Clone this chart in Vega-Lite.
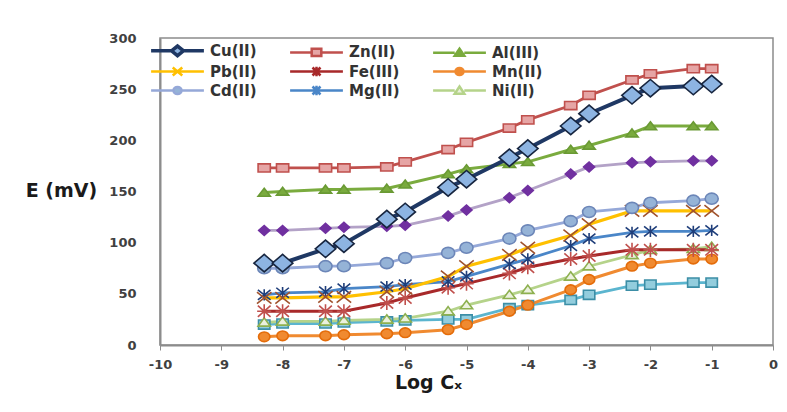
{
  "$schema": "https://vega.github.io/schema/vega-lite/v6.json",
  "width": 613,
  "height": 307,
  "autosize": {"type": "none"},
  "padding": {"left": 160, "top": 38, "right": 14, "bottom": 67},
  "background": "white",
  "config": {
    "view": {"stroke": "#8c8c8c", "strokeWidth": 1.5},
    "axis": {"labelFont": "DejaVu Sans", "labelFontWeight": "bold", "labelFontSize": 13, "labelColor": "#404040", "titleFont": "DejaVu Sans", "titleFontWeight": "bold", "titleColor": "#1a1a1a", "domainColor": "#8c8c8c", "domainWidth": 2, "tickColor": "#8c8c8c", "grid": false}
  },
  "data": {"values": [
    {"series": "Series11", "x": -8.3, "E": 20}, {"series": "Series11", "x": -8, "E": 21}, {"series": "Series11", "x": -7.3, "E": 21}, {"series": "Series11", "x": -7, "E": 22}, {"series": "Series11", "x": -6.3, "E": 23}, {"series": "Series11", "x": -6, "E": 24}, {"series": "Series11", "x": -5.3, "E": 25}, {"series": "Series11", "x": -5, "E": 25}, {"series": "Series11", "x": -4.3, "E": 36}, {"series": "Series11", "x": -4, "E": 39}, {"series": "Series11", "x": -3.3, "E": 44}, {"series": "Series11", "x": -3, "E": 49}, {"series": "Series11", "x": -2.3, "E": 58}, {"series": "Series11", "x": -2, "E": 59}, {"series": "Series11", "x": -1.3, "E": 61}, {"series": "Series11", "x": -1, "E": 61},
    {"series": "Mn(II)", "x": -8.3, "E": 8}, {"series": "Mn(II)", "x": -8, "E": 9}, {"series": "Mn(II)", "x": -7.3, "E": 9}, {"series": "Mn(II)", "x": -7, "E": 10}, {"series": "Mn(II)", "x": -6.3, "E": 11}, {"series": "Mn(II)", "x": -6, "E": 12}, {"series": "Mn(II)", "x": -5.3, "E": 15}, {"series": "Mn(II)", "x": -5, "E": 20}, {"series": "Mn(II)", "x": -4.3, "E": 33}, {"series": "Mn(II)", "x": -4, "E": 39}, {"series": "Mn(II)", "x": -3.3, "E": 54}, {"series": "Mn(II)", "x": -3, "E": 64}, {"series": "Mn(II)", "x": -2.3, "E": 77}, {"series": "Mn(II)", "x": -2, "E": 80}, {"series": "Mn(II)", "x": -1.3, "E": 84}, {"series": "Mn(II)", "x": -1, "E": 84},
    {"series": "Ni(II)", "x": -8.3, "E": 22}, {"series": "Ni(II)", "x": -8, "E": 23}, {"series": "Ni(II)", "x": -7.3, "E": 23}, {"series": "Ni(II)", "x": -7, "E": 24}, {"series": "Ni(II)", "x": -6.3, "E": 25}, {"series": "Ni(II)", "x": -6, "E": 26}, {"series": "Ni(II)", "x": -5.3, "E": 33}, {"series": "Ni(II)", "x": -5, "E": 39}, {"series": "Ni(II)", "x": -4.3, "E": 49}, {"series": "Ni(II)", "x": -4, "E": 54}, {"series": "Ni(II)", "x": -3.3, "E": 67}, {"series": "Ni(II)", "x": -3, "E": 77}, {"series": "Ni(II)", "x": -2.3, "E": 88}, {"series": "Ni(II)", "x": -2, "E": 93}, {"series": "Ni(II)", "x": -1.3, "E": 94}, {"series": "Ni(II)", "x": -1, "E": 96},
    {"series": "Fe(III)", "x": -8.3, "E": 33}, {"series": "Fe(III)", "x": -8, "E": 33}, {"series": "Fe(III)", "x": -7.3, "E": 33}, {"series": "Fe(III)", "x": -7, "E": 33}, {"series": "Fe(III)", "x": -6.3, "E": 41}, {"series": "Fe(III)", "x": -6, "E": 46}, {"series": "Fe(III)", "x": -5.3, "E": 56}, {"series": "Fe(III)", "x": -5, "E": 60}, {"series": "Fe(III)", "x": -4.3, "E": 70}, {"series": "Fe(III)", "x": -4, "E": 76}, {"series": "Fe(III)", "x": -3.3, "E": 84}, {"series": "Fe(III)", "x": -3, "E": 87}, {"series": "Fe(III)", "x": -2.3, "E": 93}, {"series": "Fe(III)", "x": -2, "E": 93}, {"series": "Fe(III)", "x": -1.3, "E": 93}, {"series": "Fe(III)", "x": -1, "E": 93},
    {"series": "Mg(II)", "x": -8.3, "E": 49}, {"series": "Mg(II)", "x": -8, "E": 51}, {"series": "Mg(II)", "x": -7.3, "E": 52}, {"series": "Mg(II)", "x": -7, "E": 55}, {"series": "Mg(II)", "x": -6.3, "E": 57}, {"series": "Mg(II)", "x": -6, "E": 59}, {"series": "Mg(II)", "x": -5.3, "E": 62}, {"series": "Mg(II)", "x": -5, "E": 67}, {"series": "Mg(II)", "x": -4.3, "E": 79}, {"series": "Mg(II)", "x": -4, "E": 84}, {"series": "Mg(II)", "x": -3.3, "E": 97}, {"series": "Mg(II)", "x": -3, "E": 104}, {"series": "Mg(II)", "x": -2.3, "E": 110}, {"series": "Mg(II)", "x": -2, "E": 111}, {"series": "Mg(II)", "x": -1.3, "E": 111}, {"series": "Mg(II)", "x": -1, "E": 112},
    {"series": "Pb(II)", "x": -8.3, "E": 46}, {"series": "Pb(II)", "x": -8, "E": 46}, {"series": "Pb(II)", "x": -7.3, "E": 47}, {"series": "Pb(II)", "x": -7, "E": 47}, {"series": "Pb(II)", "x": -6.3, "E": 52}, {"series": "Pb(II)", "x": -6, "E": 55}, {"series": "Pb(II)", "x": -5.3, "E": 67}, {"series": "Pb(II)", "x": -5, "E": 77}, {"series": "Pb(II)", "x": -4.3, "E": 88}, {"series": "Pb(II)", "x": -4, "E": 95}, {"series": "Pb(II)", "x": -3.3, "E": 107}, {"series": "Pb(II)", "x": -3, "E": 118}, {"series": "Pb(II)", "x": -2.3, "E": 131}, {"series": "Pb(II)", "x": -2, "E": 131}, {"series": "Pb(II)", "x": -1.3, "E": 131}, {"series": "Pb(II)", "x": -1, "E": 131},
    {"series": "Cd(II)", "x": -8.3, "E": 75}, {"series": "Cd(II)", "x": -8, "E": 75}, {"series": "Cd(II)", "x": -7.3, "E": 77}, {"series": "Cd(II)", "x": -7, "E": 77}, {"series": "Cd(II)", "x": -6.3, "E": 80}, {"series": "Cd(II)", "x": -6, "E": 85}, {"series": "Cd(II)", "x": -5.3, "E": 90}, {"series": "Cd(II)", "x": -5, "E": 95}, {"series": "Cd(II)", "x": -4.3, "E": 104}, {"series": "Cd(II)", "x": -4, "E": 112}, {"series": "Cd(II)", "x": -3.3, "E": 121}, {"series": "Cd(II)", "x": -3, "E": 130}, {"series": "Cd(II)", "x": -2.3, "E": 134}, {"series": "Cd(II)", "x": -2, "E": 139}, {"series": "Cd(II)", "x": -1.3, "E": 141}, {"series": "Cd(II)", "x": -1, "E": 143},
    {"series": "Series10", "x": -8.3, "E": 112}, {"series": "Series10", "x": -8, "E": 112}, {"series": "Series10", "x": -7.3, "E": 114}, {"series": "Series10", "x": -7, "E": 115}, {"series": "Series10", "x": -6.3, "E": 116}, {"series": "Series10", "x": -6, "E": 117}, {"series": "Series10", "x": -5.3, "E": 126}, {"series": "Series10", "x": -5, "E": 132}, {"series": "Series10", "x": -4.3, "E": 144}, {"series": "Series10", "x": -4, "E": 151}, {"series": "Series10", "x": -3.3, "E": 167}, {"series": "Series10", "x": -3, "E": 174}, {"series": "Series10", "x": -2.3, "E": 178}, {"series": "Series10", "x": -2, "E": 179}, {"series": "Series10", "x": -1.3, "E": 180}, {"series": "Series10", "x": -1, "E": 180},
    {"series": "Al(III)", "x": -8.3, "E": 149}, {"series": "Al(III)", "x": -8, "E": 150}, {"series": "Al(III)", "x": -7.3, "E": 152}, {"series": "Al(III)", "x": -7, "E": 152}, {"series": "Al(III)", "x": -6.3, "E": 153}, {"series": "Al(III)", "x": -6, "E": 157}, {"series": "Al(III)", "x": -5.3, "E": 167}, {"series": "Al(III)", "x": -5, "E": 172}, {"series": "Al(III)", "x": -4.3, "E": 177}, {"series": "Al(III)", "x": -4, "E": 179}, {"series": "Al(III)", "x": -3.3, "E": 191}, {"series": "Al(III)", "x": -3, "E": 195}, {"series": "Al(III)", "x": -2.3, "E": 207}, {"series": "Al(III)", "x": -2, "E": 214}, {"series": "Al(III)", "x": -1.3, "E": 214}, {"series": "Al(III)", "x": -1, "E": 214},
    {"series": "Zn(II)", "x": -8.3, "E": 173}, {"series": "Zn(II)", "x": -8, "E": 173}, {"series": "Zn(II)", "x": -7.3, "E": 173}, {"series": "Zn(II)", "x": -7, "E": 173}, {"series": "Zn(II)", "x": -6.3, "E": 174}, {"series": "Zn(II)", "x": -6, "E": 179}, {"series": "Zn(II)", "x": -5.3, "E": 191}, {"series": "Zn(II)", "x": -5, "E": 198}, {"series": "Zn(II)", "x": -4.3, "E": 212}, {"series": "Zn(II)", "x": -4, "E": 220}, {"series": "Zn(II)", "x": -3.3, "E": 234}, {"series": "Zn(II)", "x": -3, "E": 244}, {"series": "Zn(II)", "x": -2.3, "E": 259}, {"series": "Zn(II)", "x": -2, "E": 265}, {"series": "Zn(II)", "x": -1.3, "E": 270}, {"series": "Zn(II)", "x": -1, "E": 270},
    {"series": "Cu(II)", "x": -8.3, "E": 80}, {"series": "Cu(II)", "x": -8, "E": 80}, {"series": "Cu(II)", "x": -7.3, "E": 94}, {"series": "Cu(II)", "x": -7, "E": 99}, {"series": "Cu(II)", "x": -6.3, "E": 123}, {"series": "Cu(II)", "x": -6, "E": 130}, {"series": "Cu(II)", "x": -5.3, "E": 154}, {"series": "Cu(II)", "x": -5, "E": 162}, {"series": "Cu(II)", "x": -4.3, "E": 183}, {"series": "Cu(II)", "x": -4, "E": 192}, {"series": "Cu(II)", "x": -3.3, "E": 214}, {"series": "Cu(II)", "x": -3, "E": 226}, {"series": "Cu(II)", "x": -2.3, "E": 244}, {"series": "Cu(II)", "x": -2, "E": 251}, {"series": "Cu(II)", "x": -1.3, "E": 253}, {"series": "Cu(II)", "x": -1, "E": 255}
  ]},
  "encoding": {
    "x": {"field": "x", "type": "quantitative", "scale": {"domain": [-10, 0], "nice": false}, "axis": {"values": [-10, -9, -8, -7, -6, -5, -4, -3, -2, -1, 0], "labelExpr": "toString(datum.value)", "tickSize": 5, "labelPadding": 8, "title": "Log Cₓ", "titleFontSize": 19, "titleX": 268, "titleY": 37, "titleAlign": "center", "titleBaseline": "middle", "labelFlush": false}},
    "y": {"field": "E", "type": "quantitative", "scale": {"domain": [0, 300], "nice": false}, "axis": {"values": [0, 50, 100, 150, 200, 250, 300], "ticks": false, "labelPadding": 24, "title": "E (mV)", "titleFontSize": 19, "titleAngle": 0, "titleX": -99, "titleY": 152, "titleAlign": "center", "titleBaseline": "middle"}}
  },
  "layer": [
    {
      "mark": {"type": "line"},
      "encoding": {
        "color": {"field": "series", "type": "nominal",
          "scale": {"domain": ["Cu(II)", "Zn(II)", "Al(III)", "Pb(II)", "Fe(III)", "Mn(II)", "Cd(II)", "Mg(II)", "Ni(II)", "Series10", "Series11"],
                    "range": ["#1F3864", "#C0504D", "#7AAB3E", "#FFC000", "#A8292A", "#F08A30", "#95A8D8", "#4A86C8", "#B5D38A", "#B3A2C7", "#5BB5CF"]},
          "legend": {
            "title": null,
            "values": ["Cu(II)", "Zn(II)", "Al(III)", "Pb(II)", "Fe(III)", "Mn(II)", "Cd(II)", "Mg(II)", "Ni(II)"],
            "orient": "none", "direction": "horizontal", "legendX": 10, "legendY": 5, "columns": 3, "columnPadding": 28, "rowPadding": -2, "padding": 0,
            "symbolSize": 256, "symbolStrokeWidth": 2.5, "labelOffset": 25,
            "labelFont": "DejaVu Sans", "labelFontWeight": "bold", "labelFontSize": 15, "labelColor": "#333333",
            "encode": {"symbols": {"update": {
              "shape": {"signal": "['M-3.3,0L-0.75,0M0.75,0L3.3,0M-0.75,0L0,-0.6L0.75,0L0,0.6Z','M-3.3,0L-0.6,0M0.6,0L3.3,0M-0.6,-0.45L0.6,-0.45L0.6,0.45L-0.6,0.45Z','M-3.3,0L-0.6,0M0.6,0L3.3,0M0,-0.5L0.6,0.4L-0.6,0.4Z','M-3.3,0L3.3,0M-0.6,-0.5L0.6,0.5M-0.6,0.5L0.6,-0.5','M-3.3,0L3.3,0M-0.5,-0.5L0.5,0.5M-0.5,0.5L0.5,-0.5M0,-0.6L0,0.6','M-3.3,0L-0.5,0M0.5,0L3.3,0M-0.5,0A0.5,0.45 0 1,0 0.5,0A0.5,0.45 0 1,0 -0.5,0Z','M-3.3,0L-0.5,0M0.5,0L3.3,0M-0.5,0A0.5,0.45 0 1,0 0.5,0A0.5,0.45 0 1,0 -0.5,0Z','M-3.3,0L3.3,0M-0.5,-0.5L0.5,0.5M-0.5,0.5L0.5,-0.5M0,-0.6L0,0.6','M-3.3,0L-0.6,0M0.6,0L3.3,0M0,-0.5L0.6,0.4L-0.6,0.4Z'][indexof(['Cu(II)','Zn(II)','Al(III)','Pb(II)','Fe(III)','Mn(II)','Cd(II)','Mg(II)','Ni(II)'], datum.value)]"},
              "fill": {"signal": "['#8DB4E2','#E6A5A5','#7AAB3E','transparent','transparent','#F08A30','#95B3D7','transparent','#EBF1DE'][indexof(['Cu(II)','Zn(II)','Al(III)','Pb(II)','Fe(III)','Mn(II)','Cd(II)','Mg(II)','Ni(II)'], datum.value)]"},
              "stroke": {"signal": "['#1F3864','#C0504D','#7AAB3E','#FFC000','#A8292A','#F08A30','#95A8D8','#4A86C8','#B5D38A'][indexof(['Cu(II)','Zn(II)','Al(III)','Pb(II)','Fe(III)','Mn(II)','Cd(II)','Mg(II)','Ni(II)'], datum.value)]"},
              "strokeWidth": {"signal": "datum.value === 'Cu(II)' ? 3.5 : 2.5"},
              "size": {"value": 256},
              "opacity": {"value": 1}
            }}}
          }},
        "strokeWidth": {"field": "series", "type": "nominal",
          "scale": {"type": "ordinal", "domain": ["Series11", "Series10", "Ni(II)", "Mg(II)", "Cd(II)", "Mn(II)", "Fe(III)", "Pb(II)", "Al(III)", "Zn(II)", "Cu(II)"],
                    "range": [2.8, 2.8, 2.8, 2.8, 2.8, 3, 3, 3.2, 3, 2.8, 4]},
          "legend": null}
      }
    },
    {
      "mark": {"type": "point", "opacity": 1, "strokeWidth": 1.6},
      "encoding": {
        "shape": {"field": "series", "type": "nominal",
          "scale": {"domain": ["Series11", "Series10", "Ni(II)", "Mg(II)", "Cd(II)", "Mn(II)", "Fe(III)", "Pb(II)", "Al(III)", "Zn(II)", "Cu(II)"],
                    "range": ["M-1,-0.8L1,-0.8L1,0.8L-1,0.8Z", "M-1,0L0,-0.9L1,0L0,0.9Z", "M0,-0.75L1,0.6L-1,0.6Z", "M-1,-0.8L1,0.8M-1,0.8L1,-0.8M0,-0.9L0,0.9", "M-1,0A1,0.85 0 1,0 1,0A1,0.85 0 1,0 -1,0Z", "M-1,0A1,0.85 0 1,0 1,0A1,0.85 0 1,0 -1,0Z", "M-0.9,-0.8L0.9,0.8M-0.9,0.8L0.9,-0.8M0,-1L0,1M-1,0L1,0", "M-1,-0.8L1,0.8M-1,0.8L1,-0.8", "M0,-0.7L1,0.6L-1,0.6Z", "M-1,-0.67L1,-0.67L1,0.67L-1,0.67Z", "M-1,0L0,-0.85L1,0L0,0.85Z"]},
          "legend": null},
        "size": {"field": "series", "type": "nominal",
          "scale": {"type": "ordinal", "domain": ["Series11", "Series10", "Ni(II)", "Mg(II)", "Cd(II)", "Mn(II)", "Fe(III)", "Pb(II)", "Al(III)", "Zn(II)", "Cu(II)"],
                    "range": [130, 120, 150, 160, 170, 130, 200, 210, 150, 150, 420]},
          "legend": null},
        "fill": {"field": "series", "type": "nominal",
          "scale": {"domain": ["Series11", "Series10", "Ni(II)", "Mg(II)", "Cd(II)", "Mn(II)", "Fe(III)", "Pb(II)", "Al(III)", "Zn(II)", "Cu(II)"],
                    "range": ["#93CDDD", "#7030A0", "#EBF1DE", "transparent", "#95B3D7", "#F08A30", "transparent", "transparent", "#7AAB3E", "#E6A5A5", "#8DB4E2"]},
          "legend": null},
        "stroke": {"field": "series", "type": "nominal",
          "scale": {"domain": ["Series11", "Series10", "Ni(II)", "Mg(II)", "Cd(II)", "Mn(II)", "Fe(III)", "Pb(II)", "Al(III)", "Zn(II)", "Cu(II)"],
                    "range": ["#3C8EA6", "#7030A0", "#8DB04F", "#1F3E7A", "#6C86B8", "#E46C0A", "#C0504D", "#A0522D", "#6A9A34", "#C0504D", "#17253F"]},
          "legend": null}
      }
    }
  ]
}
